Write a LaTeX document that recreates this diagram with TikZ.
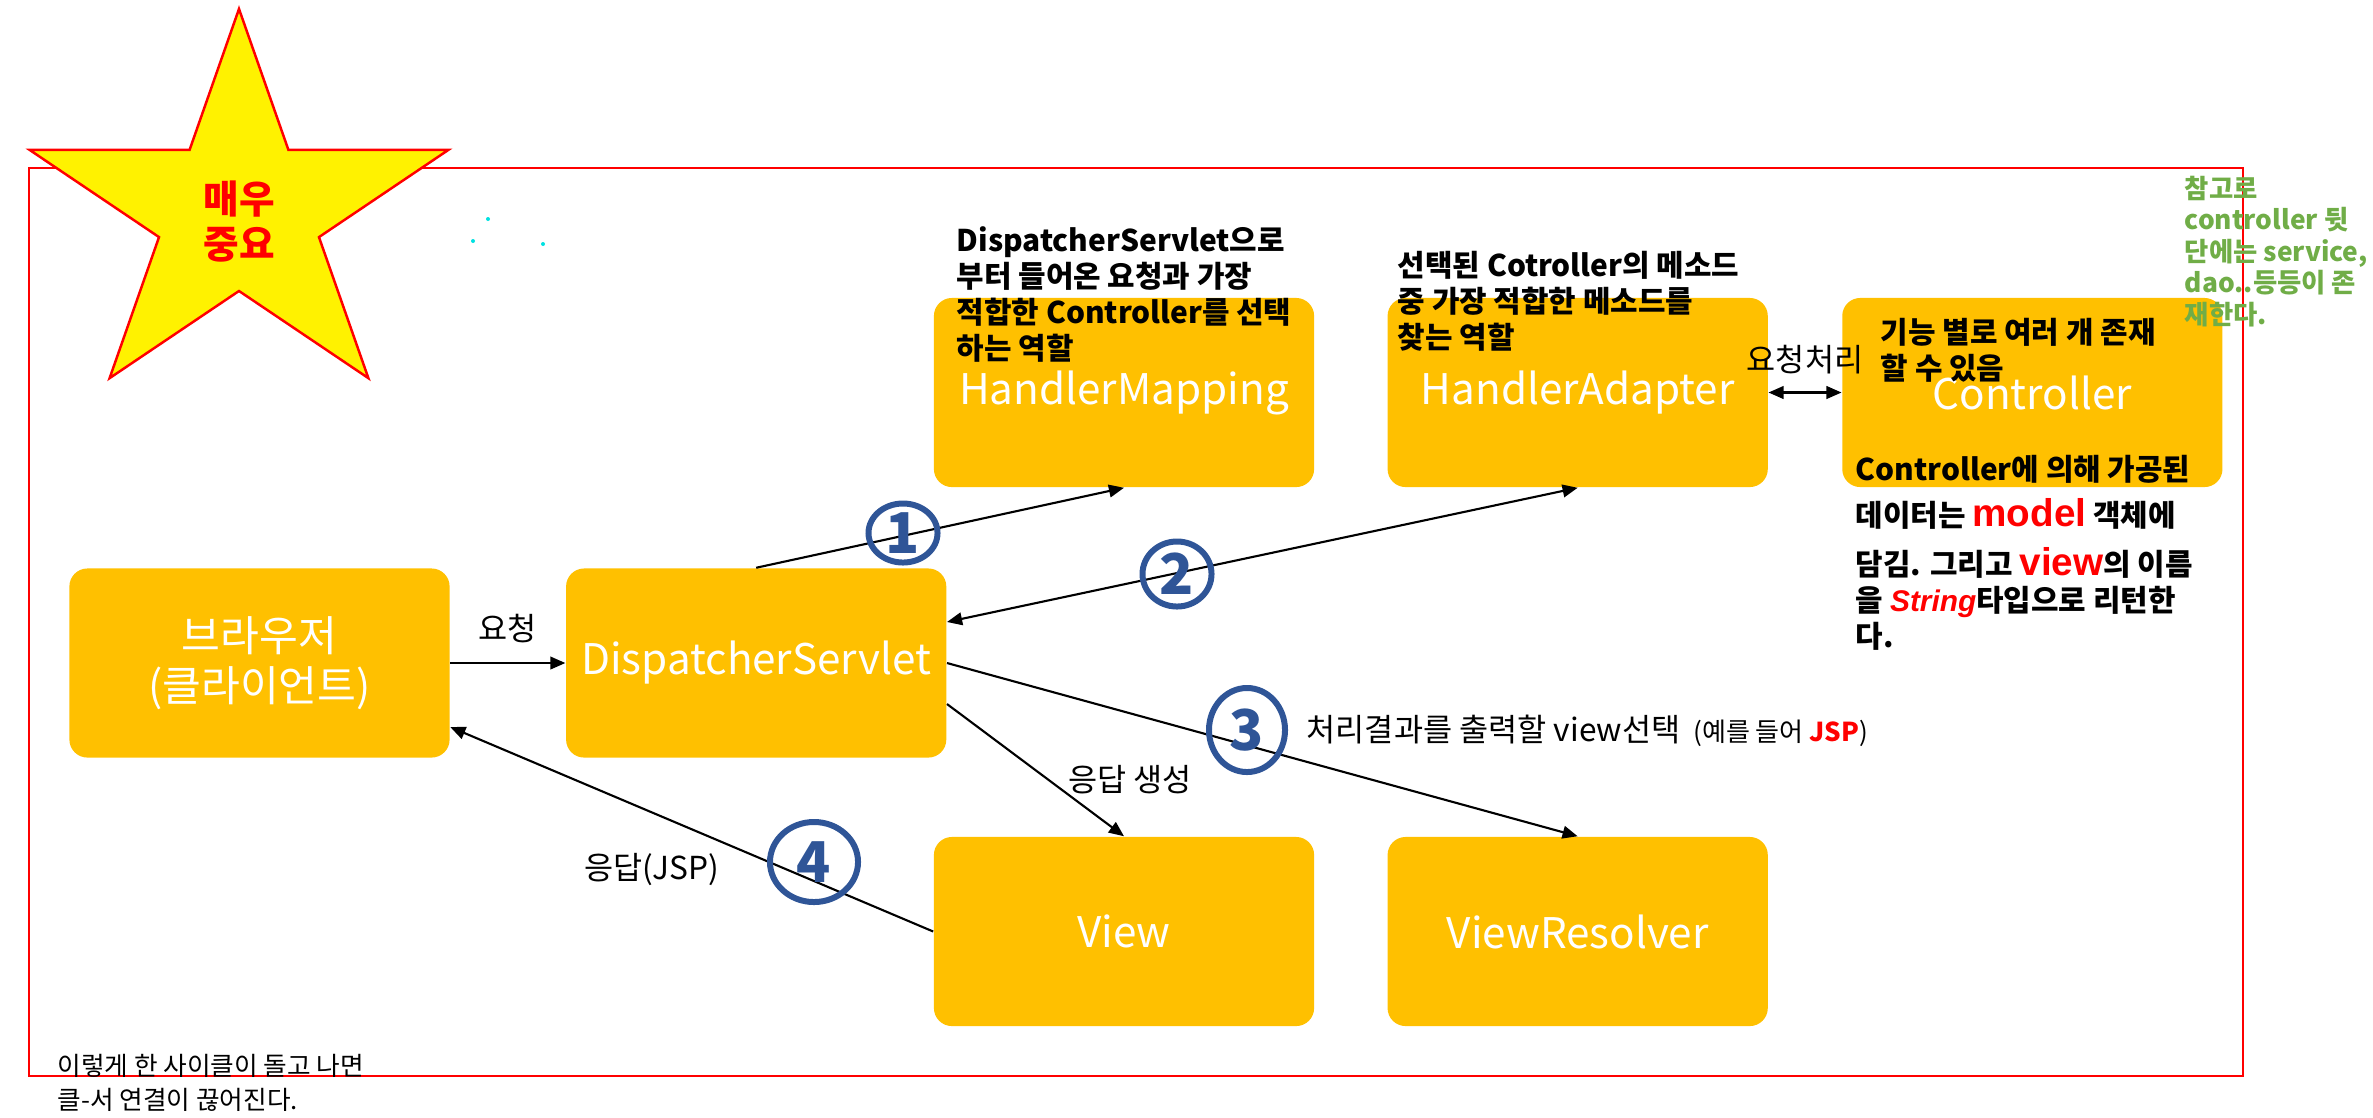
\documentclass[tikz,border=0pt]{standalone}
\usepackage{fontspec}
\setmainfont{Noto Sans CJK KR}
\newfontfamily\latinfont{Liberation Sans}
\usetikzlibrary{positioning}
\usetikzlibrary{arrows.meta}
\usetikzlibrary{shapes.geometric}
\definecolor{gold}{RGB}{255,192,0}
\definecolor{penblue}{RGB}{47,85,151}
\definecolor{notegreen}{RGB}{112,173,71}
\definecolor{dotcyan}{RGB}{0,225,225}

\tikzset{
  box/.style={rectangle, rounded corners=0.18cm, fill=gold, minimum width=3.8cm,
    minimum height=1.89cm, inner sep=0, align=center, text=white,
    font=\fontsize{12}{14.2}\selectfont},
  lbl/.style={inner sep=0, font=\fontsize{9}{10.8}\selectfont},
  role/.style={inner sep=0, align=left, anchor=north west,
    font=\bfseries\fontsize{8.5}{10.2}\selectfont},
  handnum/.style={ellipse, draw=penblue, line width=1.7pt, inner sep=0,
    text=penblue, font=\bfseries\fontsize{16}{16}\selectfont},
  >={Triangle[length=4.3pt,width=3.6pt]}
}

\begin{document}
\begin{tikzpicture}[x=0.01cm, y=-0.01cm]
\useasboundingbox (0,0) rectangle (2373,1117);

%---------------------------------------
% Frame and star
%---------------------------------------
\draw[red, line width=0.7pt] (29,168) rectangle (2243,1076);

\begin{scope}[shift={(239,213)}, x=2.2cm, y=2.04cm]
  \draw[red, fill=yellow, line width=0.7pt]
    (90:1) -- (126:.382) -- (162:1) -- (198:.382) -- (234:1) -- (270:.382)
    -- (306:1) -- (342:.382) -- (18:1) -- (54:.382) -- cycle;
\end{scope}
\node[align=center, text=red, font=\bfseries\fontsize{11}{12.8}\selectfont]
  (important) at (239,222) {매우\\중요};

% stray dots
\fill[dotcyan] (488,219) circle (0.2mm);
\fill[dotcyan] (473,241) circle (0.2mm);
\fill[dotcyan] (543,244) circle (0.2mm);

%---------------------------------------
% Boxes
%---------------------------------------
\node[box] (browser) at (259.5,663) {브라우저\\(클라이언트)};
\node[box, right=1.15cm of browser] (dispatcher) {DispatcherServlet};
\node[box] (mapping) at (1124,392.5) {HandlerMapping};
\node[box, right=0.72cm of mapping] (adapter) {HandlerAdapter};
\node[box, right=0.73cm of adapter] (controller) {Controller};
\node[box] (view) at (1124,931.5) {View};
\node[box, right=0.72cm of view] (resolver) {ViewResolver};

%---------------------------------------
% Flow
%---------------------------------------
\draw[semithick, ->] (browser) -- (dispatcher)
  node[lbl, midway, above=1.9mm] {요청};
\draw[semithick, ->] (dispatcher.north) -- (mapping.south);
\draw[semithick, <->] ([yshift=4.1mm]dispatcher.east) -- (adapter.south);
\draw[semithick, <->] (adapter) -- (controller)
  node[lbl, midway, above=1.7mm] {요청처리};
\draw[semithick, ->] (dispatcher.east) -- (resolver.north);
\draw[semithick, ->] ([yshift=-4.1mm]dispatcher.east) -- (view.north);
\draw[semithick, ->] (view.west) -- ([yshift=-6.4mm]browser.east);

\node[lbl] (makeresp) at (1130,780) {응답 생성};
\node[lbl] (respjsp) at (652,869) {응답(JSP)};
\node[lbl, anchor=west] (pickview) at (1306,731)
  {처리결과를 출력할 view선택\hspace{1.3mm}{\fontsize{7.4}{8.4}\selectfont(예를 들어 {\color{red}\bfseries JSP})}};

% hand-drawn step numbers
\node[handnum, minimum width=0.69cm, minimum height=0.59cm] (stepone) at (903,533) {1};
\node[handnum, minimum width=0.69cm, minimum height=0.65cm] (steptwo) at (1177,574) {2};
\node[handnum, minimum width=0.76cm, minimum height=0.84cm] (stepthree) at (1247,730) {3};
\node[handnum, minimum width=0.88cm, minimum height=0.80cm] (stepfour) at (814,862) {4};

%---------------------------------------
% Notes
%---------------------------------------
\node[role] (mappingrole) at (956,226)
  {DispatcherServlet으로\\부터 들어온 요청과 가장\\적합한 Controller를 선택\\하는 역할};
\node[role] (adapterrole) at (1397,251)
  {선택된 Cotroller의 메소드\\중 가장 적합한 메소드를\\찾는 역할};
\node[role] (controllerrole) at (1880,318) {기능 별로 여러 개 존재\\할 수 있음};
\node[role] (modelnote) at (1855,455)
  {Controller에 의해 가공된\\[2.8pt]
   데이터는 {\color{red}\latinfont\fontsize{11}{12}\selectfont model} 객체에\\[3.8pt]
   담김. 그리고 {\color{red}\latinfont\fontsize{11}{12}\selectfont view}의 이름\\
   을 {\color{red}\latinfont\itshape String}타입으로 리턴한\\
   다.};
\node[role, text=notegreen, font=\bfseries\fontsize{7.5}{9}\selectfont] (aside) at (2184,175)
  {참고로\\controller 뒷\\단에는 service,\\dao..등등이 존\\재한다.};
\node[role, font=\fontsize{7.3}{9.4}\selectfont] (cyclenote) at (57,1054)
  {이렇게 한 사이클이 돌고 나면\\클-서 연결이 끊어진다.};

\end{tikzpicture}
\end{document}
